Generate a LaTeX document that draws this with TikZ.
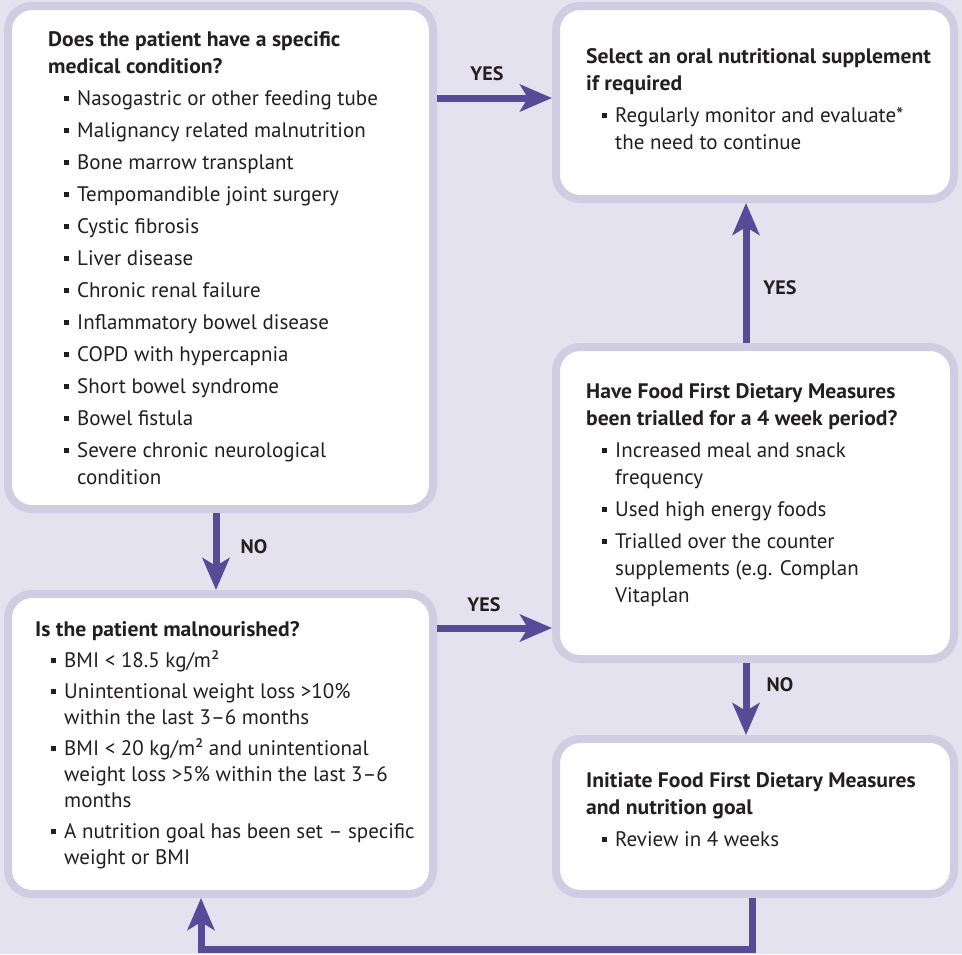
\documentclass[tikz,border=0pt]{standalone}
\usepackage{fontspec}
\setmainfont{PT Sans}[BoldFeatures={FakeStretch=1.03}]
\usetikzlibrary{arrows.meta}
\definecolor{bgc}{RGB}{229,226,239}
\definecolor{bdc}{RGB}{208,204,226}
\definecolor{arc}{RGB}{87,74,150}
\definecolor{txc}{RGB}{35,31,32}
\tikzset{
 box/.style={draw=bdc, fill=white, line width=8pt, rounded corners=24pt, outer sep=4pt, inner sep=0pt},
 arr/.style={draw=arc, line width=7pt, -{Stealth[length=32pt,width=27pt,inset=8pt]}},
 lbl/.style={font=\fontsize{19.5}{19.5}\selectfont\bfseries, text=txc, inner sep=0pt},
 txt/.style={anchor=base west, inner sep=0pt, text=txc}
}
\newlength\igap
\setlength\igap{5pt}
\newcommand\nl{\unskip\hfil\break}
\newcommand\bsq{\rule[4.5pt]{5pt}{5pt}}
\newcommand\bitem[1]{\par\vspace{\igap}\hangindent=29pt\hangafter=0\noindent\llap{\bsq\hspace{8.5pt}}#1}
\newcommand\boxtext[3]{\parbox[t]{#1}{\fontsize{21}{#2}\selectfont\rightskip=0pt plus 1fil\parfillskip=0pt plus 1fil #3}}
\begin{document}
\begin{tikzpicture}[x=1pt,y=-1pt]
\fill[bgc] (0,0) rectangle (962,954);
\useasboundingbox (0,0) rectangle (962,954);
% boxes
\node[box, minimum width=425pt, minimum height=503pt] (b1) at (220.5,257.5) {};
\node[box, minimum width=398pt, minimum height=193pt] (b2) at (755,102.5) {};
\node[box, minimum width=398pt, minimum height=312pt] (b3) at (755,503) {};
\node[box, minimum width=425pt, minimum height=300pt] (b4) at (220.5,744) {};
\node[box, minimum width=398pt, minimum height=155pt] (b5) at (755,816.5) {};
% texts
\node[txt] (t1) at (48,46) {\boxtext{385pt}{27pt}{%
\textbf{Does the patient have a specific\nl medical condition?}
\bitem{Nasogastric or other feeding tube}
\bitem{Malignancy related malnutrition}
\bitem{Bone marrow transplant}
\bitem{Tempomandible joint surgery}
\bitem{Cystic fibrosis}
\bitem{Liver disease}
\bitem{Chronic renal failure}
\bitem{Inflammatory bowel disease}
\bitem{COPD with hypercapnia}
\bitem{Short bowel syndrome}
\bitem{Bowel fistula}
\bitem{Severe chronic neurological\nl condition}}};
\node[txt] (t2) at (586,63) {\boxtext{368pt}{27pt}{%
\textbf{Select an oral nutritional supplement\nl if required}
\bitem{Regularly monitor and evaluate*\nl the need to continue}}};
\node[txt] (t3) at (586,398) {\boxtext{368pt}{27pt}{%
\textbf{Have Food First Dietary Measures\nl been trialled for a 4 week period?}
\bitem{Increased meal and snack\nl frequency}
\bitem{Used high energy foods}
\bitem{Trialled over the counter\nl supplements (e.g. Complan\nl Vitaplan}}};
\node[txt] (t4) at (35,636) {\boxtext{398pt}{26pt}{%
\textbf{Is the patient malnourished?}
\bitem{BMI < 18.5 kg/m²}
\bitem{Unintentional weight loss >10\%\nl within the last 3--6 months}
\bitem{BMI < 20 kg/m² and unintentional\nl weight loss >5\% within the last 3--6\nl months}
\bitem{A nutrition goal has been set -- specific\nl weight or BMI}}};
\node[txt] (t5) at (586,787) {\boxtext{368pt}{27pt}{%
\textbf{Initiate Food First Dietary Measures\nl and nutrition goal}
\bitem{Review in 4 weeks}}};
% connectors
\draw[arr] (b1.east |- 0,98) -- (b2.west |- 0,98);
\draw[arr] (b3.north -| 746,0) -- (b2.south -| 746,0);
\draw[arr] (b1.south -| 216,0) -- (b4.north -| 216,0);
\draw[arr] (b4.east |- 0,628) -- (b3.west |- 0,628);
\draw[arr] (b3.south -| 746,0) -- (b5.north -| 746,0);
\coordinate (c1) at (752,949);
\coordinate (c2) at (201,949);
\draw[arr] (b5.south -| c1) -- (c1) -- (c2) -- (b4.south -| c2);
% labels
\node[lbl] (l1) at (487,74) {YES};
\node[lbl] (l2) at (780,288) {YES};
\node[lbl] (l3) at (254,547) {NO};
\node[lbl] (l4) at (484,605) {YES};
\node[lbl] (l5) at (780,685) {NO};
\end{tikzpicture}
\end{document}
